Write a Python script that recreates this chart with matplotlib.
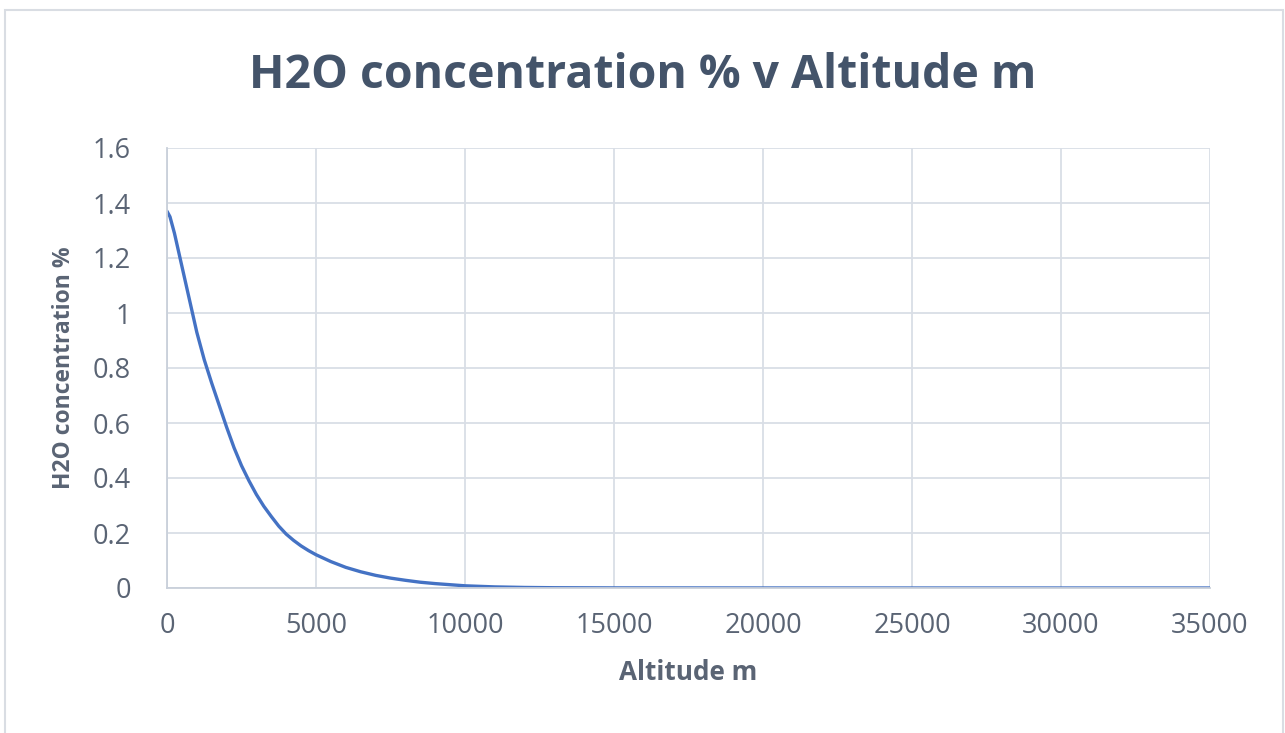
import matplotlib.pyplot as plt
from matplotlib.patches import Rectangle

# altitude (m) and H2O concentration (%)
altitude = [0, 100, 250, 500, 750, 1000, 1250, 1500, 1750, 2000, 2250, 2500,
            2750, 3000, 3250, 3500, 3750, 4000, 4250, 4500, 4750, 5000, 5500,
            6000, 6500, 7000, 7500, 8000, 8500, 9000, 9500, 10000, 11000,
            12000, 13000, 15000, 20000, 25000, 30000, 35000]
h2o_pct = [1.37, 1.35, 1.29, 1.17, 1.05, 0.93, 0.83, 0.745, 0.665, 0.585,
           0.51, 0.445, 0.39, 0.34, 0.297, 0.26, 0.225, 0.196, 0.173, 0.153,
           0.136, 0.121, 0.096, 0.075, 0.059, 0.046, 0.036, 0.028, 0.021,
           0.016, 0.012, 0.008, 0.004, 0.002, 0.001, 0.0004, 0.0001, 0.0,
           0.0, 0.0]

x_ticks = [0, 5000, 10000, 15000, 20000, 25000, 30000, 35000]
y_ticks = [0, 0.2, 0.4, 0.6, 0.8, 1, 1.2, 1.4, 1.6]
y_labels = ["0", "0.2", "0.4", "0.6", "0.8", "1", "1.2", "1.4", "1.6"]

text_col = "#5a6474"
title_col = "#44546a"
grid_col = "#d9dee6"
line_col = "#4472c4"

plt.rcParams["font.family"] = ["Open Sans", "DejaVu Sans"]

fig = plt.figure(figsize=(12.85, 7.33), dpi=100)
# light frame around the chart area
fig.patches.append(Rectangle((5 / 1285, -0.01), 1.0 - 7 / 1285, 1 - 10 / 733 + 0.01,
                             transform=fig.transFigure, fill=False,
                             edgecolor="#d9dde3", linewidth=1.5))

ax = fig.add_axes([167 / 1285, 1 - 588 / 733, (1210 - 167) / 1285, 440 / 733])
ax.plot(altitude, h2o_pct, color=line_col, linewidth=2.4, solid_capstyle="round")

ax.set_xlim(0, 35000)
ax.set_ylim(0, 1.6)
ax.set_xticks(x_ticks)
ax.set_yticks(y_ticks)
ax.set_yticklabels(y_labels)
ax.grid(True, color=grid_col, linewidth=1.3)
ax.set_axisbelow(True)
for side in ["top", "right"]:
    ax.spines[side].set_visible(False)
for side in ["left", "bottom"]:
    ax.spines[side].set_color("#c9d0da")
    ax.spines[side].set_linewidth(1.3)
ax.tick_params(length=0, labelsize=19.5, colors=text_col)
ax.tick_params(axis="x", pad=17)
ax.tick_params(axis="y", pad=26)

ax.set_xlabel("Altitude m", fontsize=18.8, fontweight="bold", color=text_col, labelpad=14)
ax.set_ylabel("H2O concentration %", fontsize=16.5, fontweight="bold", color=text_col, labelpad=12)
fig.text(0.5, 1 - 76 / 733, "H2O concentration % v Altitude m", ha="center", va="center",
         fontsize=33.4, fontweight="bold", color=title_col)

fig.savefig("out.png", dpi=100)
